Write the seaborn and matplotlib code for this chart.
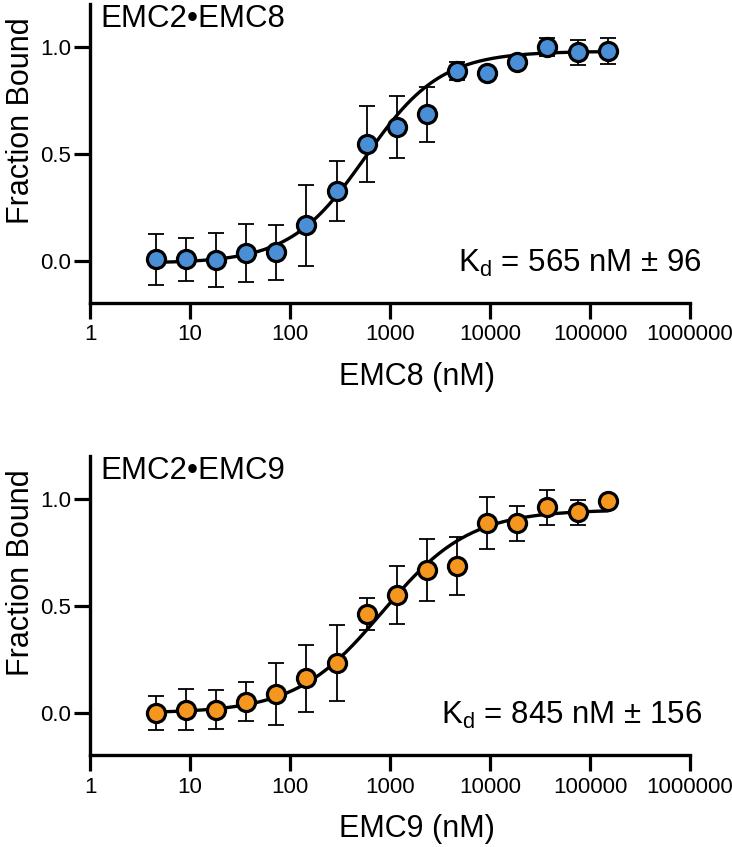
# Binding curves for EMC2 with EMC8 / EMC9
import numpy as np
import pandas as pd
import seaborn as sb
import matplotlib.pyplot as plt

# Titration series (nM), 2-fold dilutions
conc = [4.58, 9.16, 18.3, 36.6, 73.2, 146, 293, 586, 1172, 2344,
        4688, 9375, 18750, 37500, 75000, 150000]

# EMC2-EMC8 fraction bound and error
emc8_frac = [0.008, 0.008, 0.005, 0.039, 0.040, 0.167, 0.329, 0.547,
             0.625, 0.685, 0.889, 0.877, 0.928, 1.000, 0.975, 0.981]
emc8_err = [0.120, 0.100, 0.125, 0.135, 0.130, 0.190, 0.140, 0.178,
            0.145, 0.127, 0.043, 0.000, 0.000, 0.040, 0.057, 0.060]

# EMC2-EMC9 fraction bound and error
emc9_frac = [0.000, 0.016, 0.016, 0.054, 0.087, 0.162, 0.235, 0.465,
             0.552, 0.669, 0.686, 0.888, 0.886, 0.961, 0.938, 0.992]
emc9_err = [0.078, 0.095, 0.090, 0.092, 0.145, 0.155, 0.177, 0.075,
            0.136, 0.146, 0.136, 0.120, 0.080, 0.082, 0.060, 0.000]

# Fit parameters (Kd, hill, bottom, top)
emc8_fit = (565, 1.15, -0.01, 0.98)
emc9_fit = (845, 1.0, 0.0, 0.95)

panels = [
    ("EMC2\u2022EMC8", "EMC8 (nM)", emc8_frac, emc8_err, emc8_fit, "565 nM \u00b1 96", "#4a8fd6"),
    ("EMC2\u2022EMC9", "EMC9 (nM)", emc9_frac, emc9_err, emc9_fit, "845 nM \u00b1 156", "#f5961f"),
]

sb.set_style("ticks", {'axes.edgecolor': 'black', 'text.color': 'black',
                       'axes.labelcolor': 'black', 'xtick.color': 'black',
                       'ytick.color': 'black'})
plt.rcParams['font.family'] = ['Liberation Sans', 'DejaVu Sans']

fig = plt.figure(figsize=(7.32, 8.47), dpi=100)
axes = [fig.add_axes([0.1230, 0.6423, 0.8197, 0.3527]),
        fig.add_axes([0.1230, 0.1086, 0.8197, 0.3527])]


def hill(x, kd, n, bottom, top):
    return bottom + (top - bottom) * x**n / (kd**n + x**n)


for ax, (title, xlab, frac, err, fit, kd_txt, color) in zip(axes, panels):

    df = pd.DataFrame({'conc': conc, 'frac': frac, 'err': err})

    # error bars
    ax.errorbar(df['conc'], df['frac'], yerr=df['err'], fmt='none',
                ecolor='black', elinewidth=1.3, capsize=6, capthick=1.3, zorder=2)

    # fitted curve
    xs = np.geomspace(conc[0], conc[-1], 300)
    curve = pd.DataFrame({'conc': xs, 'frac': hill(xs, *fit)})
    sb.lineplot(data=curve, x='conc', y='frac', color='black', lw=2.4, ax=ax, zorder=3)

    # points
    sb.scatterplot(data=df, x='conc', y='frac', color=color, s=170,
                   edgecolor='black', linewidth=2.3, ax=ax, zorder=4)

    ax.set_xscale('log')
    ax.set_xlim(1, 1e6)
    ax.set_ylim(-0.196, 1.2)
    ax.set_xticks([1, 10, 100, 1000, 10000, 100000, 1000000])
    ax.set_xticklabels(['1', '10', '100', '1000', '10000', '100000', '1000000'])
    ax.xaxis.set_minor_locator(plt.NullLocator())
    ax.set_yticks([0.0, 0.5, 1.0])
    ax.set_yticklabels(['0.0', '0.5', '1.0'])

    for s in ['top', 'right']:
        ax.spines[s].set_visible(False)
    for s in ['left', 'bottom']:
        ax.spines[s].set_linewidth(2.4)
    ax.tick_params(axis='both', width=2.3, length=11.5, labelsize=16, color='black',
                   labelcolor='black')
    ax.tick_params(axis='x', pad=4)
    ax.tick_params(axis='y', pad=2)

    ax.set_xlabel(xlab, fontsize=22)
    ax.set_ylabel("Fraction Bound", fontsize=22)
    ax.xaxis.set_label_coords(0.545, -0.196)
    ax.yaxis.set_label_coords(-0.09, 0.609)

    ax.text(0.0167, 1.0, title, transform=ax.transAxes, fontsize=22.5,
            ha='left', va='top')
    ax.text(1.02, -0.05, r"K$_{\mathregular{d}}$ = " + kd_txt,
            transform=ax.get_yaxis_transform(), fontsize=22.5,
            ha='right', va='baseline')

fig.savefig('out.png', dpi=100)
